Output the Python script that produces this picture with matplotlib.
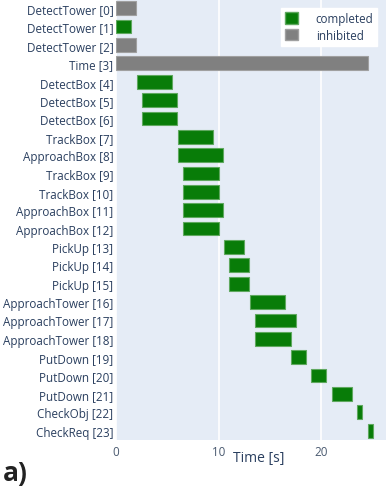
import matplotlib.pyplot as plt
from matplotlib.patches import Patch

# behaviours in execution order, with start / end times in seconds
labels = ["DetectTower [0]", "DetectTower [1]", "DetectTower [2]", "Time [3]",
          "DetectBox [4]", "DetectBox [5]", "DetectBox [6]", "TrackBox [7]",
          "ApproachBox [8]", "TrackBox [9]", "TrackBox [10]", "ApproachBox [11]",
          "ApproachBox [12]", "PickUp [13]", "PickUp [14]", "PickUp [15]",
          "ApproachTower [16]", "ApproachTower [17]", "ApproachTower [18]",
          "PutDown [19]", "PutDown [20]", "PutDown [21]", "CheckObj [22]",
          "CheckReq [23]"]
start = [0, 0, 0, 0, 2.0, 2.5, 2.5, 6.0, 6.0, 6.5, 6.5, 6.5, 6.5,
         10.5, 11.0, 11.0, 13.0, 13.5, 13.5, 17.0, 19.0, 21.0, 23.5, 24.5]
end = [1.95, 1.4, 1.95, 24.5, 5.4, 5.95, 5.95, 9.45, 10.45, 10.0, 10.0, 10.45,
       10.0, 12.5, 12.95, 12.95, 16.5, 17.5, 17.0, 18.5, 20.5, 23.0, 24.0, 25.0]
status = ["inhibited", "completed", "inhibited", "inhibited"] + ["completed"] * 20

colors = {"completed": "#087c08", "inhibited": "#808080"}
edges = {"completed": "#5fa85f", "inhibited": "#a0a0a0"}
txt = "#2a3f5f"

plt.rcParams['font.family'] = ['Open Sans', 'DejaVu Sans']

fig = plt.figure(figsize=(3.86, 4.89), dpi=100)
ax = fig.add_axes([0.301, 0.0985, 0.699, 0.9015])
ax.set_facecolor("#e5ecf6")

ypos = list(range(len(labels)))
widths = [e - s for s, e in zip(start, end)]
ax.barh(ypos, widths, left=start, height=0.75,
        color=[colors[s] for s in status],
        edgecolor=[edges[s] for s in status], linewidth=0.8, zorder=3)

ax.set_ylim(len(labels) - 0.5, -0.5)
ax.set_xlim(0, 26.3)
ax.set_yticks(ypos)
ax.set_yticklabels(labels, fontsize=8.4, color=txt)
ax.set_xticks([0, 10, 20])
ax.set_xticklabels(["0", "10", "20"], fontsize=8.4, color="#4a5a70")
ax.tick_params(axis="y", length=0, pad=2)
ax.tick_params(axis="x", length=0, pad=4)
ax.grid(axis="x", color="white", linewidth=1.2, zorder=0)
for sp in ax.spines.values():
    sp.set_visible(False)
ax.set_xlabel("Time [s]", fontsize=10, color=txt)
ax.xaxis.set_label_coords(0.53, -0.022)

handles = [Patch(facecolor=colors[k], edgecolor=edges[k], label=k)
           for k in ["completed", "inhibited"]]
leg = ax.legend(handles=handles, loc="upper right", fontsize=8.4,
                frameon=True, fancybox=False, borderpad=0.35,
                handlelength=1.1, handleheight=1.1, handletextpad=1.5,
                labelspacing=0.3, bbox_to_anchor=(0.99, 0.993))
leg.get_frame().set_edgecolor("white")
leg.get_frame().set_alpha(1)
for t in leg.get_texts():
    t.set_color(txt)

fig.text(0.008, 0.016, "a)", fontsize=19, fontweight="bold", color="#222222")

fig.savefig("out.png", dpi=100)
